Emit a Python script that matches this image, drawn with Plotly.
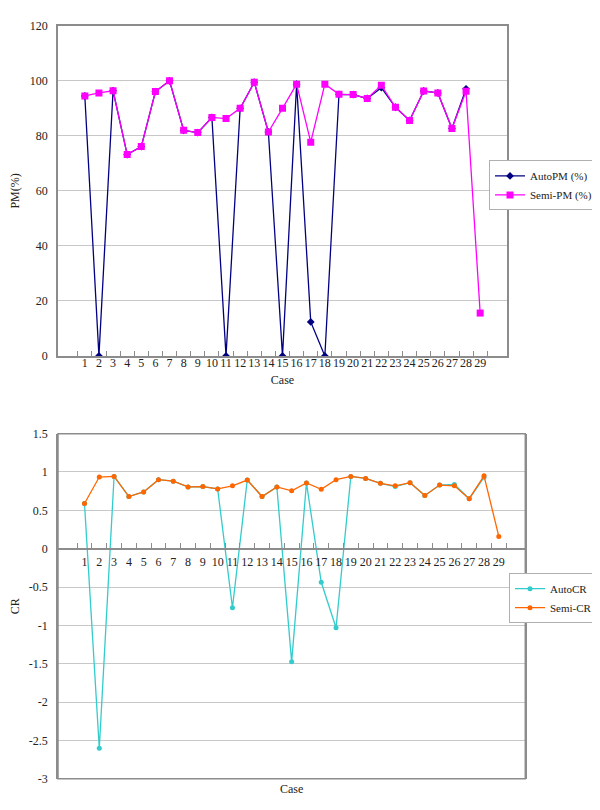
import plotly.graph_objects as go

cases = [str(i) for i in range(1, 30)]

auto_pm = [94.5, 0, 96.4, 73.2, 76.1, 96.1, 100, 82.0, 81.2, 86.7, 0, 90.0, 99.5, 81.4, 0,
           98.8, 12.4, 0, 95.1, 95.0, 93.6, 97.5, 90.4, 85.6, 96.3, 95.6, 82.7, 97.1, None]
semi_pm = [94.5, 95.6, 96.4, 73.2, 76.1, 96.1, 100, 82.0, 81.2, 86.7, 86.3, 90.0, 99.5, 81.4, 90.0,
           98.8, 77.7, 98.8, 95.1, 95.0, 93.6, 98.4, 90.4, 85.6, 96.3, 95.6, 82.7, 96.2, 15.6]

auto_cr = [0.59, -2.60, 0.942, 0.68, 0.74, 0.90, 0.88, 0.805, 0.81, 0.78, -0.77, 0.895, 0.68, 0.805,
           -1.475, 0.857, -0.437, -1.03, 0.942, 0.916, 0.853, 0.81, 0.86, 0.694, 0.83, 0.837, 0.652, 0.93, None]
semi_cr = [0.59, 0.934, 0.942, 0.68, 0.74, 0.90, 0.88, 0.805, 0.81, 0.78, 0.82, 0.895, 0.68, 0.805,
           0.754, 0.857, 0.775, 0.90, 0.942, 0.916, 0.853, 0.82, 0.86, 0.694, 0.83, 0.82, 0.652, 0.95, 0.16]

pm_ticks = [0, 20, 40, 60, 80, 100, 120]
cr_ticks = [-3, -2.5, -2, -1.5, -1, -0.5, 0, 0.5, 1, 1.5]
cr_tick_text = ["-3", "-2.5", "-2", "-1.5", "-1", "-0.5", "0", "0.5", "1", "1.5"]

FONT = "'Liberation Serif', 'DejaVu Serif', serif"
TXT = "#222222"
AX = "#8c8c8c"
GRID = "#c8c8c8"

W, H = 600, 810
def px_x(p): return p / W
def px_y(p): return 1 - p / H

fig = go.Figure()

fig.add_trace(go.Scatter(x=cases, y=auto_pm, name="AutoPM (%)", mode="lines+markers",
                         line=dict(color="#000080", width=1.3),
                         marker=dict(symbol="diamond", size=6, color="#000080"),
                         xaxis="x", yaxis="y", legend="legend"))
fig.add_trace(go.Scatter(x=cases, y=semi_pm, name="Semi-PM (%)", mode="lines+markers",
                         line=dict(color="#FF00FF", width=1.3),
                         marker=dict(symbol="square", size=7, color="#FF00FF"),
                         xaxis="x", yaxis="y", legend="legend"))
fig.add_trace(go.Scatter(x=cases, y=auto_cr, name="AutoCR", mode="lines+markers",
                         line=dict(color="#33CCCC", width=1.3),
                         marker=dict(symbol="circle", size=5, color="#33CCCC"),
                         xaxis="x2", yaxis="y2", legend="legend2"))
fig.add_trace(go.Scatter(x=cases, y=semi_cr, name="Semi-CR", mode="lines+markers",
                         line=dict(color="#FF6600", width=1.3),
                         marker=dict(symbol="circle", size=5, color="#FF6600"),
                         xaxis="x2", yaxis="y2", legend="legend2"))

top_dom_y = [px_y(347), px_y(11)]
bot_dom_y = [px_y(777.3), px_y(426)]
cr_min, cr_max = -3, 1.5
zero_pos = bot_dom_y[0] + (0 - cr_min) / (cr_max - cr_min) * (bot_dom_y[1] - bot_dom_y[0])

tickfont = dict(family=FONT, size=12, color=TXT)
legfont = dict(family=FONT, size=11, color=TXT)

fig.update_layout(
    width=W, height=H, margin=dict(l=0, r=0, t=0, b=0),
    paper_bgcolor="white", plot_bgcolor="white",
    font=dict(family=FONT, size=12, color=TXT),
    xaxis=dict(domain=[px_x(50), px_x(499)], type="category", anchor="y",
               showgrid=False, showline=True, linecolor=AX, linewidth=1.5, mirror=True,
               ticks="inside", ticklen=5, tickcolor=AX, tickson="boundaries",
               tickfont=tickfont, ticklabelstandoff=-5, tickangle=0,
               title=dict(text="Case", font=dict(family=FONT, size=12, color=TXT), standoff=6)),
    yaxis=dict(domain=top_dom_y, range=[0, 120], tickvals=pm_ticks, anchor="x",
               showgrid=True, gridcolor=GRID, gridwidth=1, zeroline=False,
               showline=True, linecolor=AX, linewidth=1.5, mirror=True,
               ticks="", tickfont=tickfont, ticklabelstandoff=6,
               title=dict(text="PM(%)", font=dict(family=FONT, size=12, color=TXT), standoff=10)),
    xaxis2=dict(domain=[px_x(50), px_x(517.3)], type="category", anchor="free", position=zero_pos,
                showgrid=False, showline=True, linecolor=AX, linewidth=1.5,
                ticks="inside", ticklen=5, tickcolor=AX, tickson="boundaries",
                tickfont=tickfont, ticklabelstandoff=2, tickangle=0),
    yaxis2=dict(domain=bot_dom_y, range=[cr_min, cr_max], tickvals=cr_ticks, ticktext=cr_tick_text,
                anchor="x2", showgrid=True, gridcolor=GRID, gridwidth=1, zeroline=False,
                showline=True, linecolor=AX, linewidth=1.5, mirror=True,
                ticks="", tickfont=tickfont, ticklabelstandoff=6,
                title=dict(text="CR", font=dict(family=FONT, size=12, color=TXT), standoff=10)),
    legend=dict(x=px_x(590), y=px_y(148), xanchor="right", yanchor="top",
                bgcolor="white", bordercolor="#b0b0b0", borderwidth=1,
                font=legfont, itemwidth=30, tracegroupgap=0),
    legend2=dict(x=px_x(590), y=px_y(568), xanchor="right", yanchor="top",
                 bgcolor="white", bordercolor="#b0b0b0", borderwidth=1,
                 font=legfont, itemwidth=30, tracegroupgap=0),
    showlegend=True,
    shapes=[dict(type="rect", xref="x2 domain", yref="y2 domain", x0=0, x1=1, y0=0, y1=1,
                 line=dict(color=AX, width=1.5), fillcolor="rgba(0,0,0,0)", layer="above")],
    annotations=[dict(text="Case", x=px_x(283), y=px_y(797), xref="paper", yref="paper",
                      showarrow=False, font=dict(family=FONT, size=12, color=TXT))],
)

fig.write_html("out.html")
